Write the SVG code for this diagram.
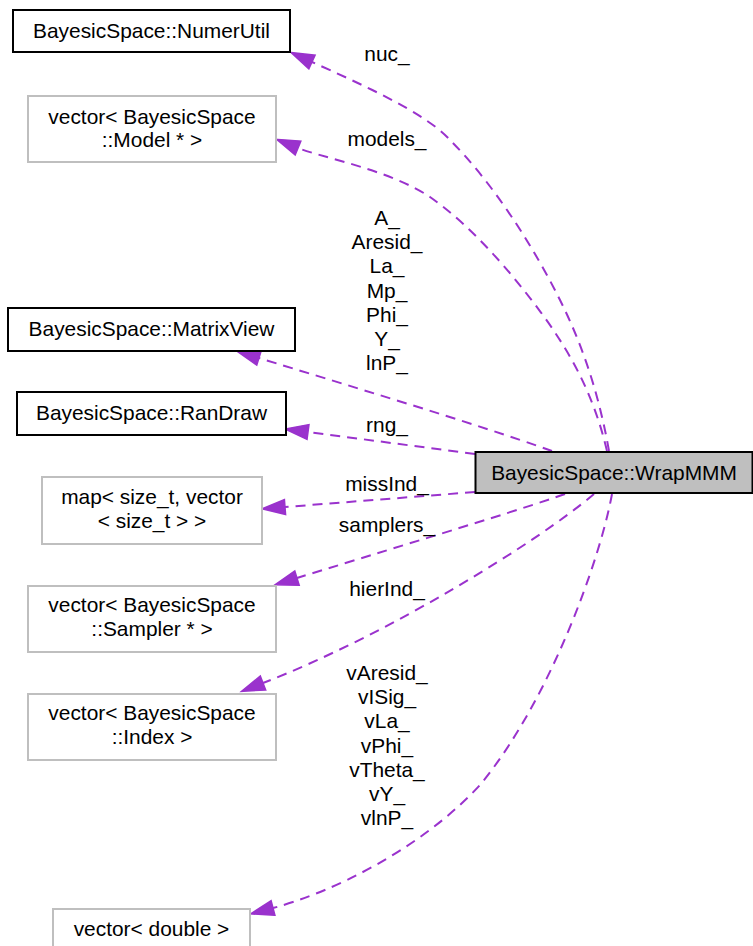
<svg xmlns="http://www.w3.org/2000/svg" width="753" height="946" viewBox="0 0 753 946">
<style>
text{font-family:"Liberation Sans",Arial,Helvetica,sans-serif;font-size:20.9px;fill:#000;text-anchor:middle}
.nb{fill:#fff;stroke:#000;stroke-width:2}
.ng{fill:#fff;stroke:#bfbfbf;stroke-width:2}
.nc{fill:#bfbfbf;stroke:#000;stroke-width:2}
.e{fill:none;stroke:#9a32cd;stroke-width:2;stroke-dasharray:10,7;marker-end:url(#ah)}
</style>
<defs>
<marker id="ah" markerUnits="userSpaceOnUse" markerWidth="28" markerHeight="22" viewBox="-2 -11 28 22" refX="0" refY="0" orient="auto" overflow="visible">
<path d="M0,-7.5 L23,0 L0,7.5 Z" fill="#9a32cd" stroke="#9a32cd" stroke-width="1.5"/>
</marker>
</defs>
<rect width="753" height="946" fill="#fff"/>
<g id="connectors">
<path class="e" d="M609,451 C600,400 585,350 560,300 C530,240 490,180 450,140 C425,112 356,82 312,62"/>
<path class="e" d="M607,451 C595,400 575,360 545,318 C510,270 470,225 430,197 C390,170 320,157 298,148"/>
<path class="e" d="M552,451 C480,425 330,380 259,358"/>
<path class="e" d="M475,454 L308,432"/>
<path class="e" d="M475,492 L285,507"/>
<path class="e" d="M565,494 C520,510 420,540 297,578"/>
<path class="e" d="M594,494 C540,540 390,634 263,683"/>
<path class="e" d="M612,494 C600,560 550,700 480,785 C420,850 330,893 273,908"/>
<text x="387" y="61">nuc_</text>
<text x="387" y="146">models_</text>
<text x="387" y="225">A_</text>
<text x="387" y="249.2">Aresid_</text>
<text x="387" y="273.4">La_</text>
<text x="387" y="297.6">Mp_</text>
<text x="387" y="321.8">Phi_</text>
<text x="387" y="346">Y_</text>
<text x="387" y="370.2">lnP_</text>
<text x="387" y="432">rng_</text>
<text x="387" y="491">missInd_</text>
<text x="387" y="532">samplers_</text>
<text x="387" y="596">hierInd_</text>
<text x="387" y="680">vAresid_</text>
<text x="387" y="704.2">vISig_</text>
<text x="387" y="728.4">vLa_</text>
<text x="387" y="752.6">vPhi_</text>
<text x="387" y="776.8">vTheta_</text>
<text x="387" y="801">vY_</text>
<text x="387" y="825.2">vlnP_</text>
</g>
<g id="WrapMMM">
<rect class="nc" x="475.5" y="452" width="277" height="41"/>
<text x="614" y="479.5">BayesicSpace::WrapMMM</text>
</g>
<g id="NumerUtil">
<rect class="nb" x="13" y="10" width="277" height="42"/>
<text x="151.5" y="38">BayesicSpace::NumerUtil</text>
</g>
<g id="ModelVector">
<rect class="ng" x="28" y="96" width="248" height="66"/>
<text x="152" y="123.5">vector&lt; BayesicSpace</text>
<text x="152" y="147">::Model * &gt;</text>
</g>
<g id="MatrixView">
<rect class="nb" x="8" y="308" width="287" height="43"/>
<text x="151.5" y="335.5">BayesicSpace::MatrixView</text>
</g>
<g id="RanDraw">
<rect class="nb" x="17" y="392" width="269" height="43"/>
<text x="151.5" y="419.5">BayesicSpace::RanDraw</text>
</g>
<g id="MapSizeT">
<rect class="ng" x="42" y="477" width="220" height="67"/>
<text x="152" y="503.5">map&lt; size_t, vector</text>
<text x="152" y="527.5">&lt; size_t &gt; &gt;</text>
</g>
<g id="SamplerVector">
<rect class="ng" x="28" y="586" width="248" height="66"/>
<text x="152" y="612">vector&lt; BayesicSpace</text>
<text x="152" y="635.5">::Sampler * &gt;</text>
</g>
<g id="IndexVector">
<rect class="ng" x="28" y="694" width="248" height="66"/>
<text x="152" y="719.5">vector&lt; BayesicSpace</text>
<text x="152" y="744">::Index &gt;</text>
</g>
<g id="DoubleVector">
<rect class="ng" x="53" y="909" width="197" height="42"/>
<text x="151.5" y="935.5">vector&lt; double &gt;</text>
</g>
</svg>
